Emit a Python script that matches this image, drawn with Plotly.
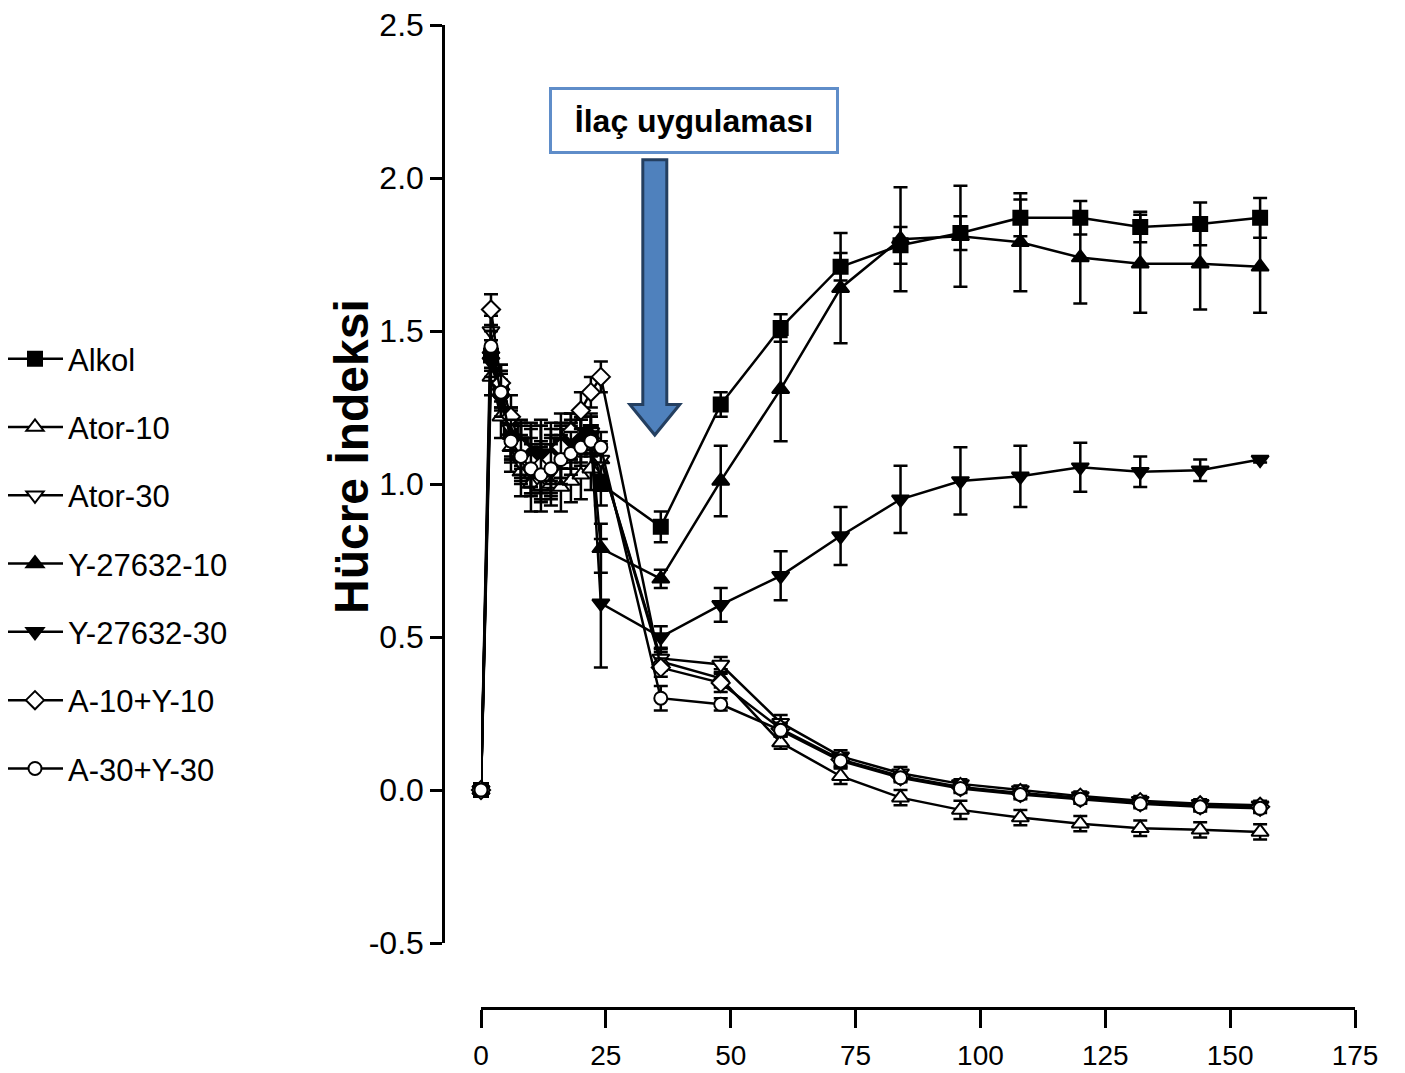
import plotly.graph_objects as go

# ---------------- data ----------------
hours = [0, 2, 4, 6, 8, 10, 12, 14, 16, 18, 20, 22, 24, 36, 48, 60, 72, 84, 96, 108, 120, 132, 144, 156]

series_names = ["Alkol", "Ator-10", "Ator-30", "Y-27632-10", "Y-27632-30", "A-10+Y-10", "A-30+Y-30"]

alkol = [0.0, 1.42, 1.31, 1.17, 1.13, 1.10, 1.09, 1.08, 1.12, 1.14, 1.16, 1.17, 1.00, 0.86, 1.26, 1.51, 1.71, 1.78, 1.82, 1.87, 1.87, 1.84, 1.85, 1.87]
alkol_err = [0.01, 0.05, 0.06, 0.08, 0.07, 0.08, 0.10, 0.08, 0.07, 0.06, 0.06, 0.06, 0.07, 0.05, 0.04, 0.045, 0.045, 0.06, 0.055, 0.06, 0.055, 0.05, 0.07, 0.065]

ator10 = [0.0, 1.35, 1.22, 1.12, 1.04, 1.00, 0.99, 1.00, 0.99, 1.01, 1.03, 1.05, 1.08, 0.42, 0.365, 0.155, 0.045, -0.025, -0.065, -0.09, -0.11, -0.125, -0.13, -0.137]
ator10_err = [0.01, 0.06, 0.07, 0.08, 0.08, 0.09, 0.08, 0.07, 0.08, 0.07, 0.08, 0.07, 0.06, 0.03, 0.03, 0.02, 0.025, 0.025, 0.03, 0.025, 0.025, 0.025, 0.025, 0.025]

ator30 = [0.0, 1.50, 1.28, 1.18, 1.07, 1.04, 1.05, 1.04, 1.10, 1.12, 1.15, 1.17, 1.08, 0.43, 0.41, 0.22, 0.11, 0.055, 0.02, 0.0, -0.02, -0.035, -0.045, -0.05]
ator30_err = [0.01, 0.05, 0.06, 0.07, 0.06, 0.07, 0.08, 0.09, 0.08, 0.07, 0.06, 0.05, 0.05, 0.03, 0.025, 0.025, 0.02, 0.02, 0.015, 0.015, 0.015, 0.015, 0.015, 0.015]

y10 = [0.0, 1.44, 1.32, 1.16, 1.10, 1.08, 1.08, 1.07, 1.11, 1.13, 1.14, 1.16, 0.79, 0.69, 1.01, 1.31, 1.64, 1.80, 1.81, 1.79, 1.74, 1.72, 1.72, 1.71]
y10_err = [0.01, 0.06, 0.07, 0.08, 0.10, 0.12, 0.13, 0.11, 0.09, 0.08, 0.07, 0.06, 0.08, 0.03, 0.115, 0.17, 0.18, 0.17, 0.165, 0.16, 0.15, 0.16, 0.15, 0.15]

y30 = [0.0, 1.40, 1.28, 1.15, 1.12, 1.09, 1.07, 1.10, 1.14, 1.15, 1.17, 1.16, 0.61, 0.50, 0.605, 0.70, 0.83, 0.95, 1.01, 1.025, 1.055, 1.04, 1.045, 1.08]
y30_err = [0.01, 0.05, 0.06, 0.07, 0.09, 0.10, 0.12, 0.10, 0.09, 0.08, 0.07, 0.06, 0.21, 0.035, 0.055, 0.08, 0.095, 0.11, 0.11, 0.10, 0.08, 0.05, 0.035, 0.01]

a10y10 = [0.0, 1.57, 1.33, 1.22, 1.12, 1.07, 1.06, 1.08, 1.12, 1.17, 1.24, 1.30, 1.35, 0.40, 0.35, 0.20, 0.10, 0.045, 0.01, -0.01, -0.025, -0.04, -0.05, -0.055]
a10y10_err = [0.01, 0.05, 0.06, 0.07, 0.07, 0.08, 0.08, 0.07, 0.07, 0.06, 0.06, 0.05, 0.05, 0.03, 0.03, 0.02, 0.02, 0.015, 0.015, 0.015, 0.015, 0.015, 0.015, 0.015]

a30y30 = [0.0, 1.45, 1.30, 1.14, 1.09, 1.05, 1.03, 1.05, 1.08, 1.10, 1.12, 1.14, 1.12, 0.30, 0.28, 0.195, 0.095, 0.04, 0.005, -0.015, -0.03, -0.045, -0.055, -0.06]
a30y30_err = [0.01, 0.05, 0.06, 0.07, 0.07, 0.08, 0.09, 0.08, 0.08, 0.07, 0.06, 0.05, 0.05, 0.04, 0.02, 0.02, 0.02, 0.015, 0.015, 0.015, 0.015, 0.015, 0.015, 0.015]

x_ticks = [0, 25, 50, 75, 100, 125, 150, 175]
y_ticks = [-0.5, 0.0, 0.5, 1.0, 1.5, 2.0, 2.5]
y_tick_text = ["-0.5", "0.0", "0.5", "1.0", "1.5", "2.0", "2.5"]

# ---------------- styles ----------------
values = [alkol, ator10, ator30, y10, y30, a10y10, a30y30]
errors = [alkol_err, ator10_err, ator30_err, y10_err, y30_err, a10y10_err, a30y30_err]
symbols = ["square", "triangle-up", "triangle-down", "triangle-up", "triangle-down", "diamond", "circle"]
fills = ["black", "white", "white", "black", "black", "white", "white"]
sizes = [14, 15, 15, 15, 15, 14, 13]

# layout geometry (px); the page body adds an 8 px offset
W, H = 1405, 1073
OFF = 8
ML, MR, MT, MB = 30, 10, 10, 73
pw = W - ML - MR
ph = H - MT - MB

def px_x(p):
    return (p - OFF - ML) / pw

def px_y(p):
    return (H - MB - (p - OFF)) / ph

fig = go.Figure()
for i, name in enumerate(series_names):
    fig.add_trace(go.Scatter(
        x=hours, y=values[i], name=name, mode="lines+markers",
        legendgroup=name,
        line=dict(color="black", width=2.5),
        marker=dict(symbol=symbols[i], size=sizes[i], color=fills[i],
                    line=dict(color="black", width=2)),
        error_y=dict(type="data", array=errors[i], visible=True,
                     color="black", thickness=2.5, width=7),
        cliponaxis=False,
    ))

# block arrow pointing down (decoration) in data coordinates
ax_c, shaft_hw, head_hw = 34.8, 2.4, 5.0
y_top, y_head, y_tip = 2.06, 1.26, 1.16
arrow_path = (f"M {ax_c - shaft_hw},{y_top} L {ax_c + shaft_hw},{y_top} L {ax_c + shaft_hw},{y_head} "
              f"L {ax_c + head_hw},{y_head} L {ax_c},{y_tip} L {ax_c - head_hw},{y_head} "
              f"L {ax_c - shaft_hw},{y_head} Z")
fig.add_shape(type="path", path=arrow_path, xref="x", yref="y",
              fillcolor="#4F81BD", line=dict(color="#243F60", width=3))

fig.add_annotation(
    x=42.6, y=2.188, xref="x", yref="y", text="<b>İlaç uygulaması</b>",
    showarrow=False, width=282, height=59,
    font=dict(family="Liberation Sans, Arial", size=32, color="black"),
    bgcolor="white", bordercolor="#5F8DC9", borderwidth=3,
)

fig.add_annotation(
    x=px_x(352), y=px_y(457), xref="paper", yref="paper",
    xanchor="center", yanchor="middle",
    text="<b>Hücre İndeksi</b>", textangle=-90, showarrow=False,
    font=dict(family="Liberation Sans, Arial", size=48, color="black"),
)

fig.update_layout(
    width=W, height=H,
    margin=dict(l=ML, r=MR, t=MT, b=MB, autoexpand=False),
    plot_bgcolor="white", paper_bgcolor="white",
    showlegend=True,
    legend=dict(
        x=px_x(2), y=px_y(332), xanchor="left", yanchor="top",
        font=dict(family="Liberation Sans, Arial", size=31, color="black"),
        itemwidth=56, tracegroupgap=25, bgcolor="rgba(0,0,0,0)",
    ),
    xaxis=dict(
        domain=[px_x(481), px_x(1355)], range=[0, 175],
        anchor="free", position=0, automargin=False,
        tickvals=x_ticks, ticks="outside", ticklen=18, tickwidth=2.5, tickcolor="black",
        showline=True, linecolor="black", linewidth=3, showgrid=False, zeroline=False,
        tickfont=dict(family="Liberation Sans, Arial", size=28, color="black"),
        ticklabelstandoff=3, ticklabeloverflow="allow",
    ),
    yaxis=dict(
        domain=[px_y(943), px_y(25)], range=[-0.5, 2.5],
        anchor="free", position=px_x(443), automargin=False,
        tickvals=y_ticks, ticktext=y_tick_text, ticks="outside", ticklen=12, tickwidth=2.5, tickcolor="black",
        showline=True, linecolor="black", linewidth=2.5, showgrid=False, zeroline=False,
        tickfont=dict(family="Liberation Sans, Arial", size=32, color="black"),
        ticklabelstandoff=0, ticklabeloverflow="allow",
    ),
)

fig.write_html("out.html")
